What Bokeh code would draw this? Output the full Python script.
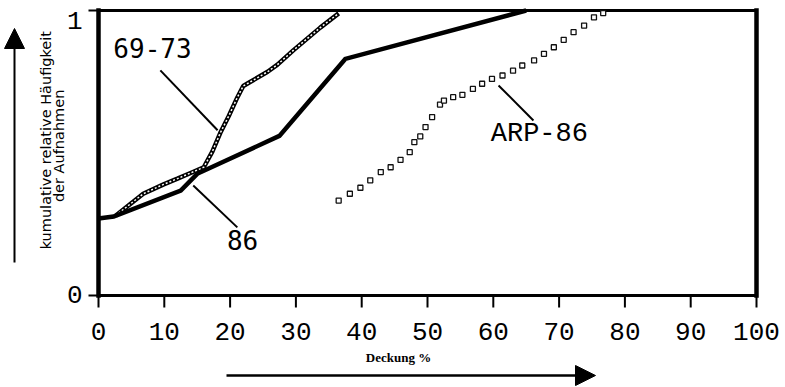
import numpy as np
from bokeh.plotting import figure
from bokeh.models import Range1d, Arrow, NormalHead
from bokeh.core.properties import value
from bokeh.embed import file_html
from bokeh.resources import INLINE

# ---------------- data ----------------
s6973_x = [2.6, 4.5, 6.8, 9.9, 12.0, 14.0, 16.0, 17.3, 18.5, 19.8, 21.1, 22.0,
           23.1, 25.7, 27.2, 29.6, 33.7, 36.5]
s6973_y = [0.28, 0.315, 0.357, 0.39, 0.41, 0.43, 0.45, 0.505, 0.57, 0.63, 0.695,
           0.735, 0.75, 0.785, 0.81, 0.86, 0.94, 0.99]

s86_x = [0, 2.3, 12.5, 15.0, 27.5, 37.5, 65.0]
s86_y = [0.27, 0.277, 0.368, 0.427, 0.56, 0.83, 1.0]

arp_x = [36.5, 38.2, 39.8, 41.3, 42.9, 44.4, 45.9, 47.3, 48.0, 48.9, 49.7, 50.7,
         51.9, 52.5, 53.9, 55.3, 56.9, 58.3, 59.8, 61.4, 63.0, 64.4, 66.2, 67.7,
         69.2, 70.7, 72.2, 73.8, 75.3, 76.7]
arp_y = [0.333, 0.357, 0.378, 0.404, 0.433, 0.450, 0.476, 0.503, 0.538, 0.558,
         0.591, 0.626, 0.670, 0.684, 0.696, 0.704, 0.725, 0.743, 0.760, 0.772,
         0.789, 0.807, 0.825, 0.848, 0.871, 0.897, 0.924, 0.947, 0.976, 0.991]

xticks = [0, 10, 20, 30, 40, 50, 60, 70, 80, 90, 100]
xtick_labels = [str(t) for t in xticks]
yticks = [0, 1]
ytick_labels = ["0", "1"]

series_names = ["69-73", "86", "ARP-86"]
x_title = "Deckung %"
y_title = ["kumulative relative Häufigkeit", "der Aufnahmen"]

# ---------------- layout helpers ----------------
W, H = 785, 387
X0_PX, PX_PER_X = 98.0, 6.58      # pixel of x=0, pixels per x unit
Y0_PX, PX_PER_Y = 295.0, 285.0    # pixel of y=0, pixels per y unit

def dx(px):   # horizontal pixel distance -> data
    return px / PX_PER_X

def dy(px):   # vertical pixel distance -> data
    return px / PX_PER_Y

xr = Range1d(-dx(X0_PX), dx(W - X0_PX))
yr = Range1d(-dy(H - Y0_PX), dy(Y0_PX))

p = figure(width=W, height=H, output_backend="svg", toolbar_location=None,
           x_range=xr, y_range=yr, x_axis_location=None, y_axis_location=None)
p.min_border = 0
p.min_border_left = 0
p.min_border_right = 0
p.min_border_top = 0
p.min_border_bottom = 0
p.grid.visible = False
p.outline_line_color = None
p.background_fill_color = "white"
p.border_fill_color = "white"

xmin, xmax = xticks[0], xticks[-1]
ymin, ymax = yticks[0], yticks[-1]

# ---------------- frame ----------------
p.segment(x0=[xmin, xmin, xmin, xmax], y0=[ymin, ymax, ymin, ymin],
          x1=[xmax, xmax, xmin, xmax], y1=[ymin, ymax, ymax, ymax],
          line_color="black", line_width=[3, 3, 4.5, 4.5], line_cap="square")

# x ticks + labels
n = len(xticks)
p.segment(x0=xticks, y0=[ymin] * n, x1=xticks, y1=[ymin - dy(12)] * n,
          line_color="black", line_width=2)
p.text(x=xticks, y=[ymin - dy(36)] * n, text=xtick_labels,
       text_align="center", text_baseline="middle",
       text_font=value("Liberation Mono"), text_font_size=value("26px"),
       text_color="black")

# y ticks + labels
m = len(yticks)
p.segment(x0=[xmin] * m, y0=yticks, x1=[xmin - dx(10)] * m, y1=yticks,
          line_color="black", line_width=2)
ylab_y = [yticks[0] + dy(1.5), yticks[1] - dy(9.5)]
p.text(x=[xmin - dx(16)] * m, y=ylab_y, text=ytick_labels,
       text_align="right", text_baseline="middle",
       text_font=value("Liberation Mono"), text_font_size=value("26px"),
       text_color="black")

# ---------------- series ----------------
# 69-73: chain of small circles
p.line(s6973_x, s6973_y, line_color="black", line_width=4.5)
p.line(s6973_x, s6973_y, line_color="white", line_width=1.5, line_dash="2 2")

# 86: thick solid
p.line(s86_x, s86_y, line_color="black", line_width=4.5, line_join="miter")

# ARP-86: small hatched squares
p.scatter(arp_x, arp_y, marker="square", size=5, line_color="#111111",
          fill_color="white", line_width=1.3)

# ---------------- series labels with leader lines ----------------
p.segment(x0=[9.4, 14.4, 60.8], y0=[0.79, 0.386, 0.737],
          x1=[18.1, 21.1, 66.1], y1=[0.58, 0.239, 0.614],
          line_color="black", line_width=2)

p.text(x=[8.2, 21.9], y=[0.87, 0.196], text=series_names[:2],
       text_align="center", text_baseline="middle",
       text_font=value("DejaVu Sans Mono"), text_font_size=value("26px"),
       text_color="black")
p.text(x=[67.0], y=[0.568], text=series_names[2:],
       text_align="center", text_baseline="middle",
       text_font=value("Liberation Mono"), text_font_size=value("27px"),
       text_color="black")

# ---------------- axis titles ----------------
p.text(x=[45.6], y=[ymin - dy(62)], text=[x_title],
       text_align="center", text_baseline="middle",
       text_font=value("Liberation Serif"), text_font_style="bold",
       text_font_size=value("13px"), text_color="black")
p.text(x=[xmin - dx(53), xmin - dx(40)], y=[0.545, 0.525], text=y_title,
       angle=np.pi / 2, text_align="center", text_baseline="middle",
       text_font=value("DejaVu Sans"), text_font_size=value("14.5px"),
       text_color="black")

# ---------------- direction arrows ----------------
p.add_layout(Arrow(end=NormalHead(size=20, fill_color="black", line_color="black"),
                   x_start=xmin + dx(128), y_start=ymin - dy(80),
                   x_end=xmin + dx(497), y_end=ymin - dy(80),
                   line_width=2.5, line_color="black"))
p.add_layout(Arrow(end=NormalHead(size=20, fill_color="black", line_color="black"),
                   x_start=xmin - dx(84), y_start=ymin + dy(33),
                   x_end=xmin - dx(84), y_end=ymin + dy(267),
                   line_width=2, line_color="black"))

open("out.html", "w").write(file_html(p, INLINE))
